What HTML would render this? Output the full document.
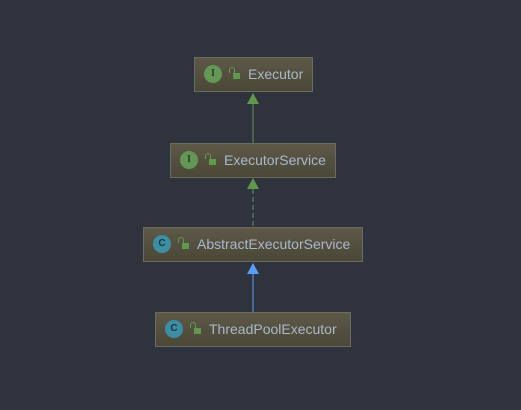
<!DOCTYPE html>
<html><head><style>
body{margin:0;width:521px;height:410px;background:#2f333d;position:relative;overflow:hidden;font-family:"Liberation Sans",sans-serif}
.b{position:absolute;box-sizing:border-box;border:1px solid #6b6b60;background:linear-gradient(#5e5847,#4a4838);height:35px;color:#a9b8cc;font-size:14px;line-height:33px}
.ic{position:absolute;top:7px;width:18px;height:18px;border-radius:50%;font-size:10px;font-weight:bold;line-height:18px;text-align:center;color:#2f3a2a;font-family:"Liberation Serif",serif}
.i{background:#629755}
.c{background:#3c8ea3;color:#1c3540;font-family:"Liberation Sans",sans-serif}
.l{position:absolute;top:15px;width:7px;height:6px;background:#5f9a4c}
.l:before{content:"";position:absolute;left:-4px;top:-6px;width:4px;height:5px;border:1.5px solid #5f9a4c;border-bottom:none;border-radius:3px 3px 0 0}
.t{position:absolute;top:0}
</style></head><body>
<svg width="521" height="410" style="position:absolute;left:0;top:0">
<line x1="253" y1="104" x2="253" y2="143" stroke="#5f9a4c" stroke-width="1"/>
<polygon points="253,93 247,104 259,104" fill="#5f9a4c"/>
<line x1="253" y1="189" x2="253" y2="227" stroke="#5f9a4c" stroke-width="1" stroke-dasharray="5,3"/>
<polygon points="253,178 247,189 259,189" fill="#5f9a4c"/>
<line x1="253" y1="274" x2="253" y2="312" stroke="#589df6" stroke-width="1"/>
<polygon points="253,263 247,274 259,274" fill="#589df6"/>
</svg>
<div class="b" style="left:194px;top:57px;width:119px"><div class="ic i" style="left:9px">I</div><div class="l" style="left:38px"></div><span class="t" style="left:53px">Executor</span></div>
<div class="b" style="left:170px;top:143px;width:166px"><div class="ic i" style="left:9px">I</div><div class="l" style="left:38px"></div><span class="t" style="left:53px">ExecutorService</span></div>
<div class="b" style="left:143px;top:227px;width:220px"><div class="ic c" style="left:9px">C</div><div class="l" style="left:38px"></div><span class="t" style="left:53px">AbstractExecutorService</span></div>
<div class="b" style="left:155px;top:312px;width:196px"><div class="ic c" style="left:9px">C</div><div class="l" style="left:38px"></div><span class="t" style="left:53px">ThreadPoolExecutor</span></div>
</body></html>
